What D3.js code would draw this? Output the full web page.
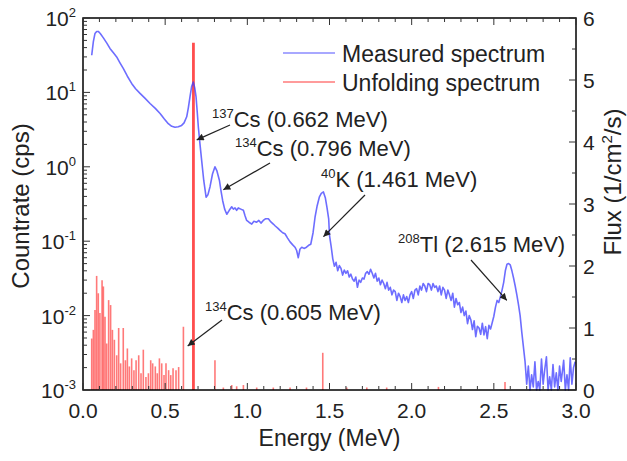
<!DOCTYPE html>
<html>
<head>
<meta charset="utf-8">
<script src="https://cdn.jsdelivr.net/npm/d3@7"></script>
<style>
  html, body { margin: 0; padding: 0; background: #fff; overflow: hidden; }
  #chart svg { display: block; font-family: "Liberation Sans", Arial, sans-serif; }
</style>
</head>
<body>
<div id="chart"></div>
<script>
// Measured spectrum — energy (MeV) and countrate (cps)
const measuredEnergy = [
  0.053, 0.063, 0.073, 0.083, 0.093, 0.105, 0.124, 0.145, 0.164, 0.185, 0.205, 0.225, 0.245, 0.27, 0.296,
  0.32, 0.347, 0.378, 0.408, 0.44, 0.469, 0.495, 0.519, 0.54, 0.56, 0.58, 0.60, 0.615, 0.631, 0.641,
  0.651, 0.661, 0.671, 0.68, 0.688, 0.695, 0.702, 0.712, 0.722, 0.735, 0.749, 0.76, 0.773, 0.788, 0.803,
  0.815, 0.83, 0.84, 0.85, 0.862, 0.875, 0.89, 0.905, 0.915, 0.925, 0.935, 0.945, 0.96, 0.976, 0.986,
  0.996, 1.01, 1.027, 1.04, 1.057, 1.07, 1.083, 1.097, 1.11, 1.128, 1.14, 1.158, 1.17, 1.185, 1.199,
  1.215, 1.229, 1.245, 1.26, 1.275, 1.29, 1.30, 1.31, 1.32, 1.331, 1.345, 1.36, 1.373, 1.386, 1.40,
  1.412, 1.425, 1.438, 1.45, 1.463, 1.475, 1.485, 1.495,
  1.50, 1.51, 1.52, 1.53, 1.54, 1.55, 1.56, 1.57, 1.58, 1.59, 1.60, 1.61, 1.62, 1.63, 1.64, 1.65,
  1.66, 1.67, 1.68, 1.69, 1.70, 1.71, 1.72, 1.73, 1.74, 1.75, 1.76, 1.77, 1.78, 1.79, 1.80, 1.81,
  1.82, 1.83, 1.84, 1.85, 1.86, 1.87, 1.88, 1.89, 1.90, 1.91, 1.92, 1.93, 1.94, 1.95, 1.96, 1.97,
  1.98, 1.99, 2.00, 2.01, 2.02, 2.03, 2.04, 2.05, 2.06, 2.07, 2.08, 2.09, 2.10, 2.11, 2.12, 2.13,
  2.14, 2.15, 2.16, 2.17, 2.18, 2.19, 2.20, 2.21, 2.22, 2.23, 2.24, 2.25, 2.26, 2.27, 2.28, 2.29,
  2.30, 2.31, 2.32, 2.33, 2.34, 2.35, 2.36, 2.37, 2.38, 2.39, 2.40, 2.41, 2.42, 2.43, 2.44, 2.45,
  2.46, 2.47, 2.48, 2.49, 2.50, 2.51, 2.52, 2.53, 2.54, 2.55, 2.56, 2.57, 2.58, 2.59, 2.60, 2.61,
  2.62, 2.63, 2.64, 2.65, 2.66, 2.67, 2.68, 2.69, 2.70, 2.71, 2.72, 2.73, 2.74, 2.75, 2.76, 2.77,
  2.78, 2.79, 2.80, 2.81, 2.82, 2.83, 2.84, 2.85, 2.86, 2.87, 2.88, 2.89, 2.90, 2.91, 2.925, 2.935,
  2.945, 2.955, 2.965, 2.975, 2.985, 2.995
];
const measuredRate = [
  31.6, 48, 62, 66, 66, 62, 54, 46, 39, 34, 30, 25, 21, 16.5, 13.2,
  11.2, 9.7, 8.3, 7.1, 6.1, 5.2, 4.4, 3.8, 3.5, 3.4, 3.45, 3.6, 3.9, 4.7, 6.2,
  8.7, 12, 13.8, 11.5, 8.7, 5.5, 3.4, 2.0, 1.22, 0.65, 0.39, 0.42, 0.54, 0.8, 1.0,
  0.88, 0.66, 0.47, 0.35, 0.27, 0.23, 0.26, 0.29, 0.27, 0.28, 0.26, 0.28, 0.27, 0.26, 0.22,
  0.19, 0.18, 0.17, 0.185, 0.18, 0.19, 0.175, 0.19, 0.2, 0.2, 0.185, 0.17, 0.16, 0.15, 0.14,
  0.13, 0.126, 0.11, 0.098, 0.09, 0.083, 0.075, 0.06, 0.078, 0.083, 0.08, 0.083, 0.088, 0.091, 0.13,
  0.21, 0.3, 0.39, 0.44, 0.46, 0.38, 0.28, 0.2,
  0.12, 0.085, 0.058, 0.046, 0.052, 0.04, 0.047, 0.043, 0.035, 0.041, 0.037, 0.04, 0.033, 0.036, 0.031, 0.029,
  0.033, 0.024, 0.03, 0.028, 0.032, 0.031, 0.037, 0.039, 0.036, 0.042, 0.037, 0.032, 0.037, 0.029, 0.032, 0.026,
  0.03, 0.027, 0.023, 0.028, 0.022, 0.024, 0.019, 0.022, 0.021, 0.016, 0.02, 0.018, 0.015, 0.019, 0.016, 0.018,
  0.015, 0.019, 0.021, 0.017, 0.022, 0.023, 0.019, 0.025, 0.022, 0.027, 0.025, 0.021, 0.027, 0.026, 0.022, 0.027,
  0.024, 0.025, 0.021, 0.025, 0.019, 0.024, 0.022, 0.017, 0.022, 0.019, 0.016, 0.02, 0.013, 0.017, 0.014, 0.015,
  0.011, 0.013, 0.01, 0.0115, 0.0078, 0.01, 0.0088, 0.0065, 0.0085, 0.0052, 0.0072, 0.0068, 0.0056, 0.0079, 0.0055, 0.0071,
  0.0049, 0.0074, 0.0066, 0.008, 0.0098, 0.013, 0.016, 0.015, 0.018, 0.022, 0.028, 0.04, 0.049, 0.05, 0.048, 0.04,
  0.032, 0.025, 0.019, 0.014, 0.01, 0.006, 0.0038, 0.0024, 0.0012, 0.0021, 0.0009, 0.0016, 0.0011, 0.0024, 0.001, 0.0013,
  0.0009, 0.0026, 0.0012, 0.0019, 0.0028, 0.001, 0.0015, 0.0009, 0.0022, 0.0011, 0.0017, 0.0009, 0.0021, 0.0013, 0.0025, 0.001,
  0.0016, 0.0009, 0.0027, 0.0012, 0.002, 0.0024
];

// Unfolding spectrum — energy (MeV) and flux (1/cm2/s)
const unfoldEnergy = [
  0.053, 0.063, 0.073, 0.083, 0.093, 0.103, 0.116, 0.124, 0.134, 0.144, 0.156, 0.168, 0.179, 0.191,
  0.205, 0.217, 0.229, 0.245, 0.258, 0.270, 0.282, 0.296, 0.310, 0.323, 0.339, 0.353, 0.367, 0.383,
  0.398, 0.412, 0.424, 0.440, 0.452, 0.465, 0.479, 0.493, 0.505, 0.521, 0.534, 0.548, 0.566, 0.582,
  0.611, 0.672, 0.803, 0.854, 0.905, 0.935, 0.976, 1.057, 1.158, 1.26, 1.36, 1.459, 1.605, 1.727,
  1.848, 2.163, 2.568
];
const unfoldFlux = [
  0.83, 0.97, 1.29, 1.84, 1.56, 1.24, 1.77, 1.67, 1.18, 0.75, 1.45, 1.37, 0.97, 0.81,
  0.56, 1.0, 0.43, 1.0, 0.48, 0.67, 0.38, 0.51, 0.32, 0.48, 0.56, 0.27, 0.65, 0.21,
  0.27, 0.48, 0.43, 0.38, 0.27, 0.51, 0.43, 0.24, 0.43, 0.32, 0.24, 0.35, 0.32, 0.37,
  1.02, 5.6, 0.48, 0.04, 0.08, 0.06, 0.08, 0.04, 0.04, 0.04, 0.04, 0.6, 0.04, 0.04,
  0.04, 0.05, 0.13
];

const xTicks = [0, 0.5, 1.0, 1.5, 2.0, 2.5, 3.0];
const leftTickExponents = [-3, -2, -1, 0, 1, 2];
const rightTicks = [0, 1, 2, 3, 4, 5, 6];
const legendLabels = ["Measured spectrum", "Unfolding spectrum"];

// annotation: isotope, label text, arrow tip (energy, cps)
const annotationIsotopes = ["137", "134", "40", "208", "134"];
const annotationTexts = ["Cs (0.662 MeV)", "Cs (0.796 MeV)", "K (1.461 MeV)", "Tl (2.615 MeV)", "Cs (0.605 MeV)"];
const annotationTipEnergy = [0.692, 0.854, 1.463, 2.579, 0.637];
const annotationTipRate = [2.3, 0.49, 0.115, 0.016, 0.0039];

// layout
const width = 627, height = 461;
const margin = { top: 18, right: 51, bottom: 71, left: 83 };
const innerWidth = width - margin.left - margin.right;
const innerHeight = height - margin.top - margin.bottom;

const blueColor = "#3c3cff";
const redColor = "#ff2020";

const xScale = d3.scaleLinear().domain([0, 3]).range([0, innerWidth]);
const yScale = d3.scaleLog().domain([1e-3, 1e2]).range([innerHeight, 0]).clamp(true);
const fluxScale = d3.scaleLinear().domain([0, 6]).range([innerHeight, 0]);

const svg = d3.select("#chart")
  .append("svg")
  .attr("width", width)
  .attr("height", height)
  .attr("viewBox", `0 0 ${width} ${height}`);

svg.append("defs").append("marker")
  .attr("id", "arrowhead")
  .attr("viewBox", "0 0 10 10")
  .attr("refX", 10).attr("refY", 5)
  .attr("markerWidth", 9).attr("markerHeight", 7)
  .attr("markerUnits", "userSpaceOnUse")
  .attr("orient", "auto")
  .append("path")
  .attr("d", "M0,0 L10,5 L0,10 z")
  .attr("fill", "#222");

const innerChart = svg.append("g")
  .attr("transform", `translate(${margin.left}, ${margin.top})`);

// unfolding spectrum bars (right axis)
const unfold = unfoldEnergy.map((e, i) => ({ e, v: unfoldFlux[i] }));
innerChart.selectAll("line.unfold")
  .data(unfold)
  .join("line")
    .attr("class", "unfold")
    .attr("x1", d => xScale(d.e))
    .attr("x2", d => xScale(d.e))
    .attr("y1", fluxScale(0))
    .attr("y2", d => fluxScale(d.v))
    .attr("stroke", redColor)
    .attr("stroke-opacity", d => d.v > 5 ? 0.8 : 0.6)
    .attr("stroke-width", d => d.v > 5 ? 2.8 : 1.6);

// measured spectrum (left log axis, clamped at the bottom)
const measured = measuredEnergy.map((e, i) => ({ e, v: measuredRate[i] }));
const line = d3.line()
  .x(d => xScale(d.e))
  .y(d => yScale(d.v));

innerChart.append("path")
  .datum(measured)
  .attr("fill", "none")
  .attr("stroke", blueColor)
  .attr("stroke-opacity", 0.75)
  .attr("stroke-width", 1.6)
  .attr("stroke-linejoin", "round")
  .attr("d", line);

// frame
innerChart.append("rect")
  .attr("width", innerWidth)
  .attr("height", innerHeight)
  .attr("fill", "none")
  .attr("stroke", "#000")
  .attr("stroke-width", 1.5);

// ticks (all pointing inward)
const ticks = innerChart.append("g").attr("stroke", "#333").attr("stroke-width", 1);
d3.range(0, 31).map(i => i / 10).forEach(v => {
  const len = Math.abs(v * 2 - Math.round(v * 2)) < 1e-6 ? 7 : 4;
  ticks.append("line").attr("x1", xScale(v)).attr("x2", xScale(v))
    .attr("y1", innerHeight).attr("y2", innerHeight - len);
  ticks.append("line").attr("x1", xScale(v)).attr("x2", xScale(v))
    .attr("y1", 0).attr("y2", len);
});
leftTickExponents.forEach(p => {
  ticks.append("line").attr("x1", 0).attr("x2", 7)
    .attr("y1", yScale(10 ** p)).attr("y2", yScale(10 ** p));
  if (p < 2) {
    d3.range(2, 10).forEach(m => {
      const y = yScale(m * 10 ** p);
      ticks.append("line").attr("x1", 0).attr("x2", 4).attr("y1", y).attr("y2", y);
    });
  }
});
d3.range(0, 6.01, 0.5).forEach(v => {
  const len = Number.isInteger(v) ? 7 : 4;
  ticks.append("line").attr("x1", innerWidth).attr("x2", innerWidth - len)
    .attr("y1", fluxScale(v)).attr("y2", fluxScale(v));
});

// tick labels
svg.selectAll("text.xtick")
  .data(xTicks)
  .join("text")
    .attr("class", "xtick")
    .attr("x", d => margin.left + xScale(d))
    .attr("y", margin.top + innerHeight + 28)
    .attr("text-anchor", "middle")
    .attr("font-size", 21)
    .attr("fill", "#222")
    .text(d => d.toFixed(1));

const yLabels = svg.selectAll("text.ytick")
  .data(leftTickExponents)
  .join("text")
    .attr("class", "ytick")
    .attr("x", margin.left - 7)
    .attr("y", d => margin.top + yScale(10 ** d) + 8)
    .attr("text-anchor", "end")
    .attr("fill", "#222");
yLabels.append("tspan").attr("font-size", 21).text("10");
yLabels.append("tspan").attr("font-size", 13).attr("dy", -9).text(d => d < 0 ? "-" + (-d) : d);

svg.selectAll("text.rtick")
  .data(rightTicks)
  .join("text")
    .attr("class", "rtick")
    .attr("x", margin.left + innerWidth + 7)
    .attr("y", d => margin.top + fluxScale(d) + 8)
    .attr("font-size", 21)
    .attr("fill", "#222")
    .text(d => d);

// axis titles
svg.append("text")
  .text("Energy (MeV)")
  .attr("x", margin.left + innerWidth / 2)
  .attr("y", 446)
  .attr("text-anchor", "middle")
  .attr("font-size", 23)
  .attr("fill", "#222");

svg.append("text")
  .text("Countrate (cps)")
  .attr("transform", `translate(29, 206) rotate(-90)`)
  .attr("text-anchor", "middle")
  .attr("font-size", 24)
  .attr("fill", "#222");

const fluxTitle = svg.append("text")
  .attr("transform", `translate(621, 182) rotate(-90)`)
  .attr("text-anchor", "middle")
  .attr("font-size", 24)
  .attr("fill", "#222");
fluxTitle.append("tspan").text("Flux (1/cm");
fluxTitle.append("tspan").attr("font-size", 15).attr("dy", -9).text("2");
fluxTitle.append("tspan").attr("dy", 9).text("/s)");

// legend
const legend = svg.append("g");
[blueColor, redColor].forEach((c, i) => {
  legend.append("line")
    .attr("x1", 283).attr("x2", 335)
    .attr("y1", 53 + i * 29).attr("y2", 53 + i * 29)
    .attr("stroke", c)
    .attr("stroke-opacity", 0.6)
    .attr("stroke-width", 1.5);
  legend.append("text")
    .attr("x", 342)
    .attr("y", 61.5 + i * 29)
    .attr("font-size", 23)
    .attr("fill", "#222")
    .text(legendLabels[i]);
});

// annotations: label position (px) and arrow tail (px)
const labelPos = [[212, 127], [235, 156], [321, 187], [398, 252], [205, 320]];
const tailPos = [[230, 125], [270, 163], [365, 195], [471, 260], [222, 320]];
annotationTexts.forEach((t, i) => {
  const label = svg.append("text")
    .attr("x", labelPos[i][0])
    .attr("y", labelPos[i][1])
    .attr("fill", "#222");
  label.append("tspan").attr("font-size", 13).attr("dy", -9).text(annotationIsotopes[i]);
  label.append("tspan").attr("font-size", 22).attr("dy", 9).text(t);

  svg.append("line")
    .attr("x1", tailPos[i][0])
    .attr("y1", tailPos[i][1])
    .attr("x2", margin.left + xScale(annotationTipEnergy[i]))
    .attr("y2", margin.top + yScale(annotationTipRate[i]))
    .attr("stroke", "#222")
    .attr("stroke-width", 1.2)
    .attr("marker-end", "url(#arrowhead)");
});
</script>
</body>
</html>
